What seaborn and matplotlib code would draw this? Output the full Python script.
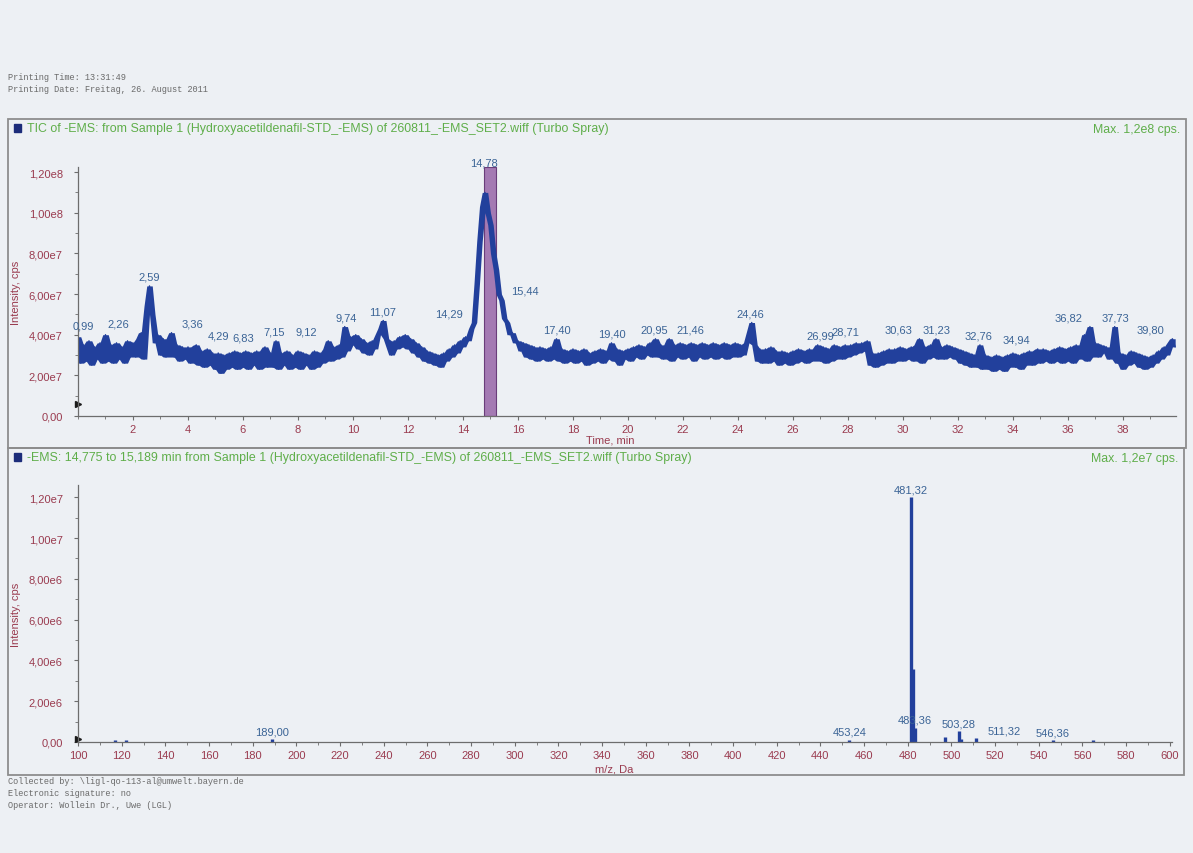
import numpy as np
import pandas as pd
import matplotlib
matplotlib.use("Agg")
import matplotlib.pyplot as plt
import seaborn as sns
from matplotlib.patches import Rectangle
from matplotlib.ticker import FuncFormatter, MultipleLocator

# ---------------- data ----------------
# TIC trace, sampled every 0.1 min from 0.0 min, intensity in units of 1e7 cps
tic_step_min = 0.1
tic_e7 = [
    3.9, 2.6, 3.5, 2.7, 3.7, 2.5, 3.4, 2.8, 3.6, 2.6,   # 0
    4.0, 2.7, 3.5, 2.6, 3.6, 2.8, 3.4, 2.6, 3.7, 2.9,   # 1
    3.6, 2.9, 3.8, 4.1, 2.8, 5.4, 6.4, 5.0, 3.6, 4.0,   # 2
    3.0, 3.8, 2.9, 3.6, 4.1, 2.9, 3.5, 2.7, 3.4, 2.8,   # 3
    3.4, 2.6, 3.3, 3.5, 2.5, 3.2, 2.4, 3.3, 2.5, 3.1,   # 4
    2.3, 3.1, 2.1, 3.0, 2.3, 3.1, 2.4, 3.2, 2.3, 3.1,   # 5
    2.4, 3.2, 2.3, 3.1, 2.5, 3.2, 2.3, 3.1, 3.4, 2.4,   # 6
    3.1, 2.4, 3.7, 2.3, 3.1, 2.5, 3.2, 2.3, 3.0, 2.4,   # 7
    3.2, 2.3, 3.1, 2.5, 3.0, 2.3, 3.2, 2.4, 3.1, 2.6,   # 8
    3.3, 3.7, 2.7, 3.4, 2.8, 3.5, 2.9, 4.4, 3.2, 3.9,   # 9
    3.5, 4.0, 3.3, 3.8, 3.1, 3.6, 3.0, 3.7, 3.3, 4.0,   # 10
    4.3, 4.7, 3.8, 3.4, 3.0, 3.7, 3.3, 3.9, 3.4, 4.0,   # 11
    3.3, 3.8, 3.1, 3.6, 2.9, 3.4, 2.7, 3.2, 2.6, 3.1,   # 12
    2.5, 3.0, 2.4, 3.1, 2.7, 3.3, 2.9, 3.5, 3.1, 3.7,   # 13
    3.4, 3.9, 3.7, 4.3, 4.6, 6.5, 8.6, 10.3, 11.0, 10.0,  # 14
    9.4, 8.0, 7.2, 6.0, 5.7, 4.8, 4.6, 4.0, 4.1, 3.6,   # 15
    3.7, 3.2, 3.6, 2.9, 3.5, 2.8, 3.4, 2.7, 3.4, 2.8,   # 16
    3.3, 2.7, 3.4, 2.8, 3.8, 2.7, 3.3, 2.6, 3.2, 2.7,   # 17
    3.3, 2.6, 3.2, 2.7, 3.3, 2.5, 3.1, 2.6, 3.2, 2.7,   # 18
    3.3, 2.6, 3.2, 2.8, 3.6, 2.7, 3.3, 2.5, 3.2, 2.8,   # 19
    3.3, 2.7, 3.4, 2.9, 3.5, 2.8, 3.4, 3.0, 3.6, 2.9,   # 20
    3.8, 2.9, 3.5, 2.8, 3.4, 3.8, 2.7, 3.5, 2.9, 3.6,   # 21
    2.8, 3.5, 2.9, 3.6, 2.7, 3.5, 2.9, 3.6, 2.8, 3.5,   # 22
    2.9, 3.6, 2.8, 3.5, 2.9, 3.6, 2.8, 3.5, 2.9, 3.6,   # 23
    2.9, 3.5, 3.0, 3.6, 4.1, 4.6, 3.5, 2.7, 3.3, 2.6,   # 24
    3.3, 2.6, 3.4, 2.7, 3.2, 2.5, 3.2, 2.6, 3.1, 2.5,   # 25
    3.2, 2.6, 3.3, 2.7, 3.2, 2.6, 3.3, 2.7, 3.2, 3.5,   # 26
    2.7, 3.4, 2.6, 3.3, 2.7, 3.5, 2.8, 3.4, 2.8, 3.5,   # 27
    2.9, 3.5, 3.0, 3.6, 3.1, 3.6, 3.2, 3.7, 2.5, 3.1,   # 28
    2.4, 3.1, 2.5, 3.2, 2.6, 3.3, 2.6, 3.3, 2.7, 3.4,   # 29
    2.7, 3.3, 2.8, 3.4, 2.7, 3.5, 3.8, 2.6, 3.4, 2.8,   # 30
    3.5, 2.9, 3.8, 2.8, 3.4, 2.8, 3.5, 2.9, 3.4, 2.8,   # 31
    3.3, 2.6, 3.2, 2.5, 3.1, 2.4, 3.0, 2.4, 3.5, 2.3,   # 32
    3.0, 2.3, 2.9, 2.2, 3.0, 2.3, 2.9, 2.2, 3.0, 2.4,   # 33
    3.1, 2.4, 3.0, 2.3, 3.1, 2.5, 3.2, 2.5, 3.1, 3.3,   # 34
    2.6, 3.3, 2.7, 3.2, 2.6, 3.3, 2.7, 3.4, 2.6, 3.3,   # 35
    2.7, 3.4, 2.6, 3.5, 2.8, 3.5, 4.0, 2.7, 4.4, 2.9,   # 36
    3.6, 2.9, 3.5, 3.1, 3.4, 2.8, 3.3, 4.4, 2.6, 3.1,   # 37
    2.3, 3.0, 2.5, 3.2, 2.6, 3.1, 2.4, 3.0, 2.3, 2.9,   # 38
    2.4, 3.0, 2.6, 3.2, 2.8, 3.4, 3.0, 3.6, 3.8, 3.4,   # 39
]
tic_max_cps = 1.2e8
tic_peak_times = [0.99, 2.26, 2.59, 3.36, 4.29, 6.83, 7.15, 9.12, 9.74, 11.07,
                  14.29, 14.78, 15.44, 17.40, 19.40, 20.95, 21.46, 24.46, 26.99,
                  28.71, 30.63, 31.23, 32.76, 34.94, 36.82, 37.73, 39.80]
xic_window_min = [14.775, 15.189]

ms_mz = [117.0, 122.0, 189.00, 453.24, 481.32, 482.32, 483.36, 497.0, 503.28,
         504.30, 511.32, 546.36, 565.0]
ms_intensity = [0.12e6, 0.10e6, 0.15e6, 0.12e6, 12.0e6, 3.6e6, 0.7e6, 0.25e6,
                0.55e6, 0.15e6, 0.2e6, 0.1e6, 0.08e6]
ms_label_mz = [189.00, 453.24, 481.32, 483.36, 503.28, 511.32, 546.36]
ms_max_cps = 1.2e7

# ---------------- layout / style ----------------
tic_label_side = [-1, -1, 0, 1, 1, -1, 0, -1, 0, 0, -1, 0, 1, 0, 0, 0, 1, 0, 0,
                  -1, -1, 0, 0, -1, -1, 0, -1]
ms_label_side = [0, 0, 0, 0, 0, 1, 0]

PAGE = "#edf0f4"
BLUE = "#22409c"
LBLUE = "#3b6496"
RED = "#9a3b4f"
GREEN = "#5fae4a"
GRAY = "#6d6d6d"

sns.set_theme(style="ticks")
plt.rcParams["font.family"] = ["Liberation Sans", "DejaVu Sans"]

W, H = 1193, 854
fig = plt.figure(figsize=(W / 100, H / 100), dpi=100, facecolor=PAGE)


def fx(px):
    return px / W


def fy(py):
    return 1 - py / H


def sci_comma(v, pos=None):
    if abs(v) < 1e-9:
        return "0,00"
    s = f"{v:.2e}"
    mant, ex = s.split("e")
    return mant.replace(".", ",") + "e" + str(int(ex))


def max_text(v):
    mant, ex = f"{v:.1e}".split("e")
    return "Max. " + mant.replace(".", ",") + "e" + str(int(ex)) + " cps."


ax1 = fig.add_axes([fx(78), fy(417), (1176 - 78) / W, (417 - 168) / H])
ax2 = fig.add_axes([fx(78), fy(743), (1172 - 78) / W, (743 - 486) / H])

for ax in (ax1, ax2):
    ax.set_facecolor(PAGE)
    ax.patch.set_alpha(0)
    for s in ("top", "right"):
        ax.spines[s].set_visible(False)
    for s in ("left", "bottom"):
        ax.spines[s].set_color(GRAY)
        ax.spines[s].set_linewidth(0.9)
    ax.tick_params(axis="both", which="major", direction="out", length=3,
                   width=0.8, color=GRAY, labelcolor=RED, labelsize=8)
    ax.tick_params(axis="y", which="major", pad=8)
    ax.tick_params(axis="x", which="major", pad=3)
    ax.tick_params(axis="both", which="minor", direction="out", length=2,
                   width=0.6, color=GRAY)
    ax.yaxis.set_major_formatter(FuncFormatter(sci_comma))

# ---------- top: TIC ----------
times = np.round(np.arange(len(tic_e7)) * tic_step_min, 2)
tic_cps = np.array(tic_e7) * 1e7
df_tic = pd.DataFrame({"time": times, "intensity": tic_cps})
# noise envelope of the trace (neighbouring samples) drawn as a dense band
env_hi = df_tic["intensity"].rolling(3, center=True, min_periods=1).max()
env_lo = df_tic["intensity"].rolling(3, center=True, min_periods=1).min()

ax1.axvspan(xic_window_min[0], xic_window_min[1], color="#a47ab3",
            ec="#6a3d7a", lw=0.8, zorder=1)
ax1.fill_between(times, env_lo, env_hi, color=BLUE, lw=0, zorder=2)
sns.lineplot(data=df_tic, x="time", y="intensity", ax=ax1, color=BLUE,
             lw=1.0, estimator=None, sort=False, zorder=2)
ax1.set_xlim(0, 39.93)
ax1.set_ylim(0, 1.225e8)
ax1.set_xticks(np.arange(2, 39, 2))
ax1.xaxis.set_major_formatter(FuncFormatter(lambda v, p: f"{int(round(v))}"))
ax1.xaxis.set_minor_locator(MultipleLocator(1))
ax1.set_yticks(np.arange(0, 1.21e8, 2e7))
ax1.yaxis.set_minor_locator(MultipleLocator(1e7))
ax1.set_xlabel("Time, min", color=RED, fontsize=8)
ax1.xaxis.set_label_coords(0.485, -0.075)
ax1.set_ylabel("Intensity, cps", color=RED, fontsize=8)
ax1.yaxis.set_label_coords(-0.052, 0.5)

apex_time = times[int(np.argmax(tic_cps))]
for t, side in zip(tic_peak_times, tic_label_side):
    near = (times >= t - 0.12) & (times <= t + 0.12)
    ymax = tic_cps[near].max()
    if abs(t - apex_time) < 0.1:
        ymax = tic_max_cps
    ax1.annotate(f"{t:.2f}".replace(".", ","), xy=(t, ymax),
                 xytext=(side * 16, 3), textcoords="offset points",
                 ha="center", va="bottom", fontsize=8, color=LBLUE,
                 annotation_clip=False, zorder=3)
ax1.plot([0], [0.05], transform=ax1.transAxes, marker=">", color="k",
         ms=5, clip_on=False)

# ---------- bottom: spectrum ----------
ax2.vlines(ms_mz, 0, ms_intensity, color=BLUE, lw=2.4, zorder=2)
ax2.set_xlim(100, 601)
ax2.set_ylim(0, 1.26e7)
ax2.set_xticks(np.arange(100, 601, 20))
ax2.xaxis.set_major_formatter(FuncFormatter(lambda v, p: f"{int(round(v))}"))
ax2.xaxis.set_minor_locator(MultipleLocator(10))
ax2.set_yticks(np.arange(0, 1.21e7, 2e6))
ax2.yaxis.set_minor_locator(MultipleLocator(1e6))
ax2.set_xlabel("m/z, Da", color=RED, fontsize=8)
ax2.xaxis.set_label_coords(0.49, -0.085)
ax2.set_ylabel("Intensity, cps", color=RED, fontsize=8)
ax2.yaxis.set_label_coords(-0.052, 0.5)
ms_lookup = dict(zip(ms_mz, ms_intensity))
for mz, side in zip(ms_label_mz, ms_label_side):
    h = ms_lookup[mz]
    ax2.annotate(f"{mz:.2f}".replace(".", ","), xy=(mz, h),
                 xytext=(side * 20, 2), textcoords="offset points",
                 ha="center", va="bottom", fontsize=8, color=LBLUE,
                 annotation_clip=False, zorder=3)
ax2.plot([0], [0.01], transform=ax2.transAxes, marker=">", color="k",
         ms=5, clip_on=False)

# ---------- frames and page text ----------
fig.add_artist(Rectangle((fx(8), fy(449)), (1186 - 8) / W, (449 - 120) / H,
                         transform=fig.transFigure, fill=False,
                         ec="#8d8d8d", lw=1.3))
fig.add_artist(Rectangle((fx(8), fy(776)), (1184 - 8) / W, (776 - 449) / H,
                         transform=fig.transFigure, fill=False,
                         ec="#8d8d8d", lw=1.3))
for ytop in (125, 454):
    fig.add_artist(Rectangle((fx(14), fy(ytop + 8)), 7 / W, 8 / H,
                             transform=fig.transFigure, color="#1c2c7a"))

title_kw = dict(fontsize=8.9, color=GREEN, va="center")
fig.text(fx(27), fy(129),
         "TIC of -EMS: from Sample 1 (Hydroxyacetildenafil-STD_-EMS) of "
         "260811_-EMS_SET2.wiff (Turbo Spray)", ha="left", **title_kw)
fig.text(fx(1180), fy(130), max_text(tic_max_cps), ha="right", **title_kw)
fig.text(fx(27), fy(458),
         "-EMS: 14,775 to 15,189 min from Sample 1 (Hydroxyacetildenafil-STD_-EMS) "
         "of 260811_-EMS_SET2.wiff (Turbo Spray)", ha="left", **title_kw)
fig.text(fx(1178), fy(459), max_text(ms_max_cps), ha="right", **title_kw)

mono = dict(family="Liberation Mono", fontsize=6.2, color="#6a6a6a",
            ha="left", va="center")
fig.text(fx(8), fy(77), "Printing Time: 13:31:49", **mono)
fig.text(fx(8), fy(89), "Printing Date: Freitag, 26. August 2011", **mono)
fig.text(fx(8), fy(782), "Collected by: \\ligl-qo-113-al@umwelt.bayern.de", **mono)
fig.text(fx(8), fy(794), "Electronic signature: no", **mono)
fig.text(fx(8), fy(806), "Operator: Wollein Dr., Uwe (LGL)", **mono)

fig.savefig("out.png", dpi=100, facecolor=PAGE)
